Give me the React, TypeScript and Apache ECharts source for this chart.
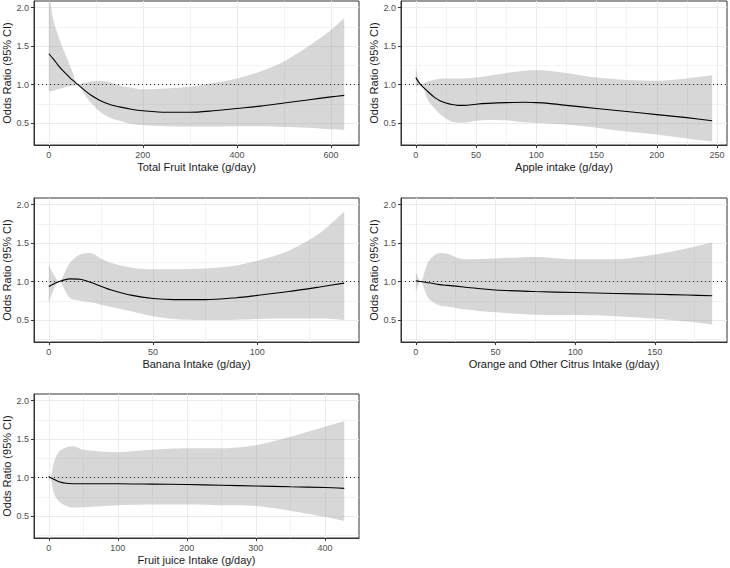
import React, { useEffect, useRef } from "react";
import * as echarts from "echarts";

// ---- Data ----
const fruitX = [0, 10, 20, 30, 40, 50, 62, 75, 90, 110, 130, 150, 175, 200, 250, 300, 350, 400, 450, 500, 550, 600, 628];
const fruitOR = [1.4, 1.33, 1.25, 1.18, 1.12, 1.06, 1.0, 0.93, 0.86, 0.79, 0.74, 0.71, 0.68, 0.66, 0.64, 0.64, 0.66, 0.69, 0.72, 0.76, 0.8, 0.84, 0.86];
const fruitUpper = [2.2, 1.83, 1.64, 1.47, 1.32, 1.17, 1.0, 1.02, 1.04, 1.05, 1.03, 0.99, 0.96, 0.94, 0.95, 0.97, 1.02, 1.08, 1.17, 1.3, 1.49, 1.71, 1.86];
const fruitLower = [0.91, 0.92, 0.94, 0.955, 0.97, 0.985, 1.0, 0.88, 0.76, 0.64, 0.57, 0.53, 0.49, 0.47, 0.46, 0.455, 0.455, 0.46, 0.46, 0.45, 0.44, 0.42, 0.41];

const appleX = [0, 4, 10, 15, 20, 25, 30, 35, 40, 50, 60, 75, 90, 100, 110, 125, 150, 175, 200, 225, 246];
const appleOR = [1.09, 1.0, 0.91, 0.84, 0.79, 0.76, 0.74, 0.73, 0.73, 0.745, 0.755, 0.765, 0.77, 0.765, 0.755, 0.73, 0.69, 0.65, 0.61, 0.57, 0.53];
const appleUpper = [1.24, 1.0, 1.04, 1.06, 1.075, 1.08, 1.08, 1.08, 1.08, 1.09, 1.11, 1.15, 1.18, 1.185, 1.18, 1.15, 1.09, 1.06, 1.05, 1.08, 1.12];
const appleLower = [0.97, 1.0, 0.8, 0.7, 0.62, 0.56, 0.52, 0.505, 0.505, 0.53, 0.54, 0.535, 0.51, 0.5, 0.495, 0.48, 0.44, 0.39, 0.35, 0.3, 0.26];

const bananaX = [0, 5, 10, 15, 20, 25, 30, 40, 50, 60, 75, 90, 100, 115, 130, 141.7];
const bananaOR = [0.935, 1.0, 1.035, 1.03, 0.99, 0.94, 0.89, 0.82, 0.78, 0.765, 0.765, 0.79, 0.82, 0.87, 0.93, 0.98];
const bananaUpper = [1.22, 1.0, 1.24, 1.35, 1.37, 1.3, 1.24, 1.18, 1.16, 1.16, 1.17, 1.21, 1.27, 1.4, 1.63, 1.91];
const bananaLower = [0.72, 1.0, 0.79, 0.75, 0.73, 0.7, 0.67, 0.61, 0.55, 0.515, 0.5, 0.505, 0.515, 0.52, 0.52, 0.5];

const orangeX = [0, 3, 8, 15, 20, 30, 50, 75, 100, 125, 150, 170, 186];
const orangeOR = [1.01, 1.0, 0.985, 0.96, 0.95, 0.93, 0.89, 0.87, 0.857, 0.845, 0.835, 0.825, 0.815];
const orangeUpper = [1.13, 1.0, 1.26, 1.37, 1.36, 1.29, 1.3, 1.32, 1.29, 1.29, 1.35, 1.43, 1.51];
const orangeLower = [0.87, 1.0, 0.78, 0.69, 0.675, 0.64, 0.6, 0.57, 0.565, 0.55, 0.52, 0.48, 0.44];

const juiceX = [0, 2, 8, 15, 25, 35, 50, 100, 150, 200, 250, 300, 350, 400, 428];
const juiceOR = [1.015, 1.0, 0.975, 0.945, 0.925, 0.92, 0.92, 0.92, 0.915, 0.91, 0.9, 0.89, 0.88, 0.87, 0.86];
const juiceUpper = [1.08, 1.0, 1.21, 1.34, 1.39, 1.405, 1.36, 1.33, 1.36, 1.38, 1.38, 1.42, 1.53, 1.66, 1.73];
const juiceLower = [0.93, 1.0, 0.78, 0.69, 0.63, 0.61, 0.615, 0.64, 0.65, 0.65, 0.64, 0.63, 0.57, 0.49, 0.435];

const titles = [
  "Total Fruit Intake (g/day)",
  "Apple intake (g/day)",
  "Banana Intake (g/day)",
  "Orange and Other Citrus Intake (g/day)",
  "Fruit juice Intake (g/day)",
];
const xMajors = [
  [0, 200, 400, 600],
  [0, 50, 100, 150, 200, 250],
  [0, 50, 100],
  [0, 50, 100, 150],
  [0, 100, 200, 300, 400],
];
const xMinors = [
  [100, 300, 500],
  [25, 75, 125, 175, 225],
  [25, 75, 125],
  [25, 75, 125, 175],
  [50, 150, 250, 350],
];
const yMajor = [0.5, 1.0, 1.5, 2.0];
const yMinor = [0.25, 0.75, 1.25, 1.75];
const yLimits = [0.3, 2.0];
const refLine = 1;
const yTitle = "Odds Ratio (95% CI)";

const panelData = [
  { x: fruitX, or: fruitOR, up: fruitUpper, lo: fruitLower },
  { x: appleX, or: appleOR, up: appleUpper, lo: appleLower },
  { x: bananaX, or: bananaOR, up: bananaUpper, lo: bananaLower },
  { x: orangeX, or: orangeOR, up: orangeUpper, lo: orangeLower },
  { x: juiceX, or: juiceOR, up: juiceUpper, lo: juiceLower },
];

// ---- Layout ----
const grids = [
  { left: 34, top: 1, width: 325, height: 144 },
  { left: 401, top: 1, width: 326, height: 144 },
  { left: 34, top: 198, width: 325, height: 144 },
  { left: 401, top: 198, width: 326, height: 144 },
  { left: 34, top: 394, width: 325, height: 144 },
];

const FONT = "'Liberation Sans', Arial, Helvetica, sans-serif";
const BORDER = "#333333";
const GRIDC = "#ebebeb";

function buildOption() {
  const yr = yLimits[1] - yLimits[0];
  const yMin = yLimits[0] - 0.05 * yr;
  const yMax = yLimits[1] + 0.05 * yr;

  const grid: any[] = [];
  const xAxis: any[] = [];
  const yAxis: any[] = [];
  const series: any[] = [];

  panelData.forEach((p, i) => {
    const xmax = Math.max(...p.x);
    const xMin = -0.05 * xmax;
    const xMaxV = xmax * 1.05;
    grid.push({ ...grids[i], show: true, borderColor: BORDER, borderWidth: 1, backgroundColor: "#fff", containLabel: false });

    xAxis.push({
      type: "value",
      gridIndex: i,
      min: xMin,
      max: xMaxV,
      position: "bottom",
      axisLine: { show: true, onZero: false, lineStyle: { color: BORDER, width: 1 } },
      axisTick: { show: true, length: 3, customValues: xMajors[i], lineStyle: { color: BORDER } },
      axisLabel: {
        customValues: xMajors[i],
        color: "#4d4d4d",
        fontSize: 9,
        fontFamily: FONT,
        margin: 5,
        formatter: (v: number) => String(Math.round(v)),
      },
      splitLine: { show: true, lineStyle: { color: GRIDC, width: 1 } },
      name: titles[i],
      nameLocation: "middle",
      nameGap: 16,
      nameTextStyle: { color: "#1a1a1a", fontSize: 11, fontFamily: FONT },
    });
    xAxis.push({
      type: "value",
      gridIndex: i,
      min: xMin,
      max: xMaxV,
      position: "top",
      axisLine: { show: false },
      axisTick: { show: false, customValues: xMinors[i] },
      axisLabel: { show: false, customValues: xMinors[i] },
      splitLine: { show: true, lineStyle: { color: GRIDC, width: 0.6 } },
    });
    yAxis.push({
      type: "value",
      gridIndex: i,
      min: yMin,
      max: yMax,
      position: "left",
      axisLine: { show: true, onZero: false, lineStyle: { color: BORDER, width: 1 } },
      axisTick: { show: true, length: 3, customValues: yMajor, lineStyle: { color: BORDER } },
      axisLabel: {
        customValues: yMajor,
        color: "#4d4d4d",
        fontSize: 9,
        fontFamily: FONT,
        margin: 5,
        formatter: (v: number) => v.toFixed(1),
      },
      splitLine: { show: true, lineStyle: { color: GRIDC, width: 1 } },
      name: yTitle,
      nameLocation: "middle",
      nameGap: 20,
      nameTextStyle: { color: "#1a1a1a", fontSize: 11, fontFamily: FONT },
    });
    yAxis.push({
      type: "value",
      gridIndex: i,
      min: yMin,
      max: yMax,
      position: "right",
      axisLine: { show: false },
      axisTick: { show: false, customValues: yMinor },
      axisLabel: { show: false, customValues: yMinor },
      splitLine: { show: true, lineStyle: { color: GRIDC, width: 0.6 } },
    });

    const xi = 2 * i;
    const yi = 2 * i;
    // y value is put first so that stacking acts on the y dimension
    series.push({
      type: "line",
      xAxisIndex: xi,
      yAxisIndex: yi,
      stack: "ci" + i,
      stackStrategy: "all",
      dimensions: ["v", "x"],
      encode: { x: 1, y: 0 },
      data: p.x.map((x, k) => [p.lo[k], x]),
      symbol: "none",
      smooth: 0.3,
      lineStyle: { opacity: 0 },
      silent: true,
      z: 3,
    });
    series.push({
      type: "line",
      xAxisIndex: xi,
      yAxisIndex: yi,
      stack: "ci" + i,
      stackStrategy: "all",
      dimensions: ["v", "x"],
      encode: { x: 1, y: 0 },
      data: p.x.map((x, k) => [p.up[k] - p.lo[k], x]),
      symbol: "none",
      smooth: 0.3,
      lineStyle: { opacity: 0 },
      areaStyle: { color: "rgba(150,150,150,0.38)", opacity: 1 },
      silent: true,
      z: 3,
    });
    series.push({
      type: "line",
      xAxisIndex: xi,
      yAxisIndex: yi,
      data: p.x.map((x, k) => [x, p.or[k]]),
      symbol: "none",
      smooth: 0.3,
      lineStyle: { color: "#000", width: 1.1 },
      silent: true,
      z: 5,
      markLine: {
        silent: true,
        symbol: "none",
        label: { show: false },
        lineStyle: { color: "#222", type: [1, 3], width: 1.1 },
        data: [{ yAxis: refLine }],
      },
    });
  });

  return { animation: false, backgroundColor: "#fff", grid, xAxis, yAxis, series };
}

export default function App() {
  const ref = useRef<HTMLDivElement>(null);
  useEffect(() => {
    if (!ref.current) return;
    const chart = echarts.init(ref.current, undefined, { renderer: "svg" });
    chart.setOption(buildOption() as any);
    return () => chart.dispose();
  }, []);
  return (
    <div
      ref={ref}
      style={{ position: "absolute", left: 0, top: 0, width: 730, height: 568, background: "#fff" }}
    />
  );
}
